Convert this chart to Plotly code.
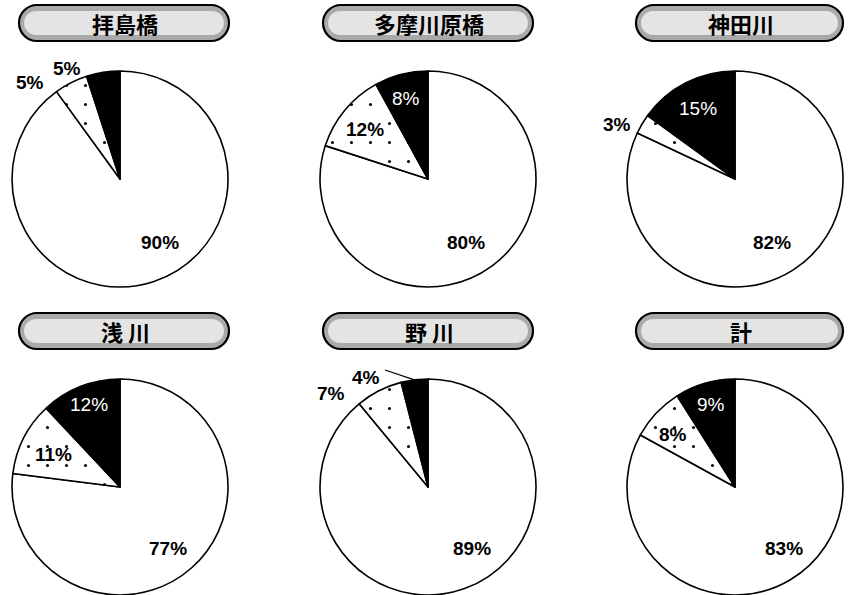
import math
import plotly.graph_objects as go

# Survey sites and share of each category (percent)
sites = ["拝島橋", "多摩川原橋", "神田川", "浅 川", "野 川", "計"]
black_share = [5, 8, 15, 12, 4, 9]
dotted_share = [5, 12, 3, 11, 7, 8]
white_share = [90, 80, 82, 77, 89, 83]

W, H = 851, 595
CX = [120, 428, 735]
CY = [179, 487]
R = 108

# label offsets from each pie centre: (black, dotted, white)
label_offsets = [
    [(-53, -111), (-90, -97), (40, 63)],
    [(-22, -81), (-63, -50), (38, 63)],
    [(-37, -71), (-118, -55), (37, 63)],
    [(-31, -83), (-67, -33), (48, 61)],
    [(-62, -110), (-97, -94), (44, 61)],
    [(-24, -83), (-62, -53), (49, 61)],
]
# labels drawn in white on the black slice
white_text = [False, True, True, True, False, True]

BOX_X = [(19, 229), (323, 533), (636, 843)]
BOX_Y = [(5, 41), (313, 349)]


def rounded_box(x0, y0, x1, y1):
    r = (y1 - y0) / 2
    k = 0.5523 * r
    ym = (y0 + y1) / 2
    return (
        f"M {x0 + r},{y0} L {x1 - r},{y0} "
        f"C {x1 - r + k},{y0} {x1},{ym - k} {x1},{ym} "
        f"C {x1},{ym + k} {x1 - r + k},{y1} {x1 - r},{y1} "
        f"L {x0 + r},{y1} "
        f"C {x0 + r - k},{y1} {x0},{ym + k} {x0},{ym} "
        f"C {x0},{ym - k} {x0 + r - k},{y0} {x0 + r},{y0} Z"
    )


fig = go.Figure()
annotations = []
shapes = []

for i, site in enumerate(sites):
    row, col = divmod(i, 3)
    cx, cy = CX[col], CY[row]
    vals = [black_share[i], dotted_share[i], white_share[i]]
    # clockwise from 12 o'clock: white, dotted, black (black ends at 12 o'clock)
    fig.add_trace(go.Pie(
        values=vals[::-1],
        labels=["C", "B", "A"],
        sort=False,
        direction="clockwise",
        rotation=0,
        textinfo="none",
        hoverinfo="skip",
        showlegend=False,
        domain=dict(x=[(cx - R) / W, (cx + R) / W],
                    y=[1 - (cy + R) / H, 1 - (cy - R) / H]),
        marker=dict(
            colors=["white", "white", "black"],
            line=dict(color="black", width=1.6),
            pattern=dict(shape=["", ".", ""], fgcolor="black", bgcolor="white",
                         size=19, solidity=0.02),
        ),
    ))

    for j, v in enumerate(vals):
        dx, dy = label_offsets[i][j]
        on_black = (j == 0 and white_text[i])
        annotations.append(dict(
            x=cx + dx, y=cy + dy, xref="x", yref="y",
            text=f"{v}%", showarrow=False,
            xanchor="center", yanchor="middle",
            font=dict(family="Liberation Sans, Arial, sans-serif", size=19,
                      color="white" if on_black else "black",
                      weight="normal" if on_black else "bold"),
        ))

    # title plate
    x0, x1 = BOX_X[col]
    y0, y1 = BOX_Y[row]
    shapes.append(dict(type="path", path=rounded_box(x0, y0, x1, y1),
                       xref="x", yref="y", fillcolor="#a9a9a9",
                       line=dict(color="black", width=2.2), layer="above"))
    shapes.append(dict(type="path", path=rounded_box(x0 + 5, y0 + 6, x1 - 5, y1 - 6),
                       xref="x", yref="y", fillcolor="#e4e4e4",
                       line=dict(width=0), layer="above"))
    annotations.append(dict(
        x=(x0 + x1) / 2 + 1, y=(y0 + y1) / 2, xref="x", yref="y",
        text=site, showarrow=False, xanchor="center", yanchor="middle",
        font=dict(family="Noto Sans CJK JP", size=22, color="black", weight="bold"),
    ))

# leader line for the small black slice of 野川
ang = math.radians(black_share[4] / 100 * 360 / 2)
ex, ey = CX[1] - R * math.sin(ang), CY[1] - R * math.cos(ang)
shapes.append(dict(type="line", x0=CX[1] - 43, y0=CY[1] - 117, x1=ex, y1=ey,
                   xref="x", yref="y", line=dict(color="black", width=1.2)))

fig.update_layout(
    width=W, height=H,
    margin=dict(l=0, r=0, t=0, b=0),
    paper_bgcolor="white", plot_bgcolor="rgba(0,0,0,0)",
    xaxis=dict(range=[0, W], visible=False, domain=[0, 1], fixedrange=True),
    yaxis=dict(range=[H, 0], visible=False, domain=[0, 1], fixedrange=True),
    shapes=shapes,
    annotations=annotations,
)

fig.write_html("out.html")
